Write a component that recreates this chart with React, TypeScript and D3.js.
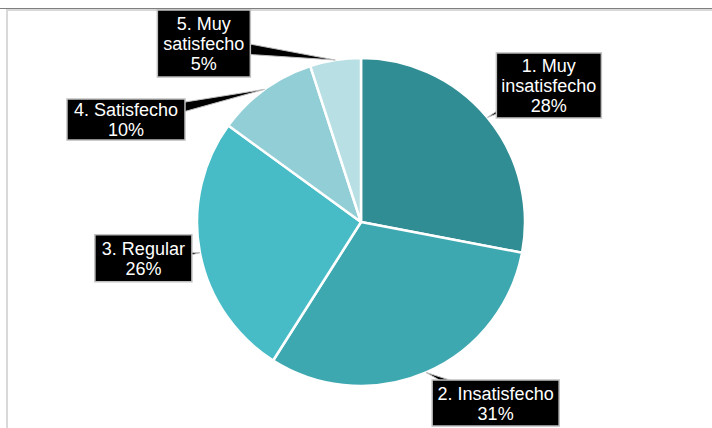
import { useEffect, useRef } from "react";
import * as d3 from "d3";

// category labels, already split the way the boxes wrap them
const CATEGORIES = [
  ["1. Muy", "insatisfecho"],
  ["2. Insatisfecho"],
  ["3. Regular"],
  ["4. Satisfecho"],
  ["5. Muy", "satisfecho"],
];
const VALUES = [28, 31, 26, 10, 5];
const COLORS = ["#318d94", "#3ea8b1", "#47bcc6", "#92ced6", "#b8dfe3"];

// label box placement relative to the slice's outer mid point
const LABEL_LAYOUT = [
  { dx: 61.5, dy: -32, w: 105, h: 65 },
  { dx: 69.5, dy: 30.5, w: 127, h: 46 },
  { dx: -56.5, dy: 5.5, w: 97, h: 47 },
  { dx: -138.6, dy: 30.2, w: 118, h: 41 },
  { dx: -131.5, dy: -16.5, w: 93, h: 67 },
];

export default function App() {
  const svgRef = useRef<SVGSVGElement | null>(null);

  useEffect(() => {
    if (!svgRef.current) return;
    const W = 712, H = 428;
    const cx = 361, cy = 222, R = 164;

    const svg = d3.select(svgRef.current);
    svg.selectAll("*").remove();
    svg.attr("width", W).attr("height", H).attr("viewBox", `0 0 ${W} ${H}`);

    svg.append("rect").attr("width", W).attr("height", H).attr("fill", "#fff");

    // frame lines of the sheet/chart area
    svg.append("line").attr("x1", 0).attr("x2", W).attr("y1", 8.5).attr("y2", 8.5)
      .attr("stroke", "#7f7f7f").attr("stroke-width", 1);
    svg.append("line").attr("x1", 6).attr("x2", W).attr("y1", 10).attr("y2", 10)
      .attr("stroke", "#d9d9d9").attr("stroke-width", 2);
    svg.append("line").attr("x1", 7).attr("x2", 7).attr("y1", 9).attr("y2", H)
      .attr("stroke", "#d9d9d9").attr("stroke-width", 2);

    const pie = d3.pie<number>().value((d) => d).sort(null);
    const arcs = pie(VALUES);
    const arc = d3.arc<d3.PieArcDatum<number>>().innerRadius(0).outerRadius(R);

    const g = svg.append("g").attr("transform", `translate(${cx},${cy})`);
    g.selectAll("path.slice")
      .data(arcs)
      .join("path")
      .attr("class", "slice")
      .attr("d", arc)
      .attr("fill", (_, i) => COLORS[i])
      .attr("stroke", "#fff")
      .attr("stroke-width", 2.5)
      .attr("stroke-linejoin", "round");

    const fmt = (v: number) => `${Math.round((v / d3.sum(VALUES)) * 100)}%`;

    arcs.forEach((a, i) => {
      const mid = (a.startAngle + a.endAngle) / 2;
      const tx = cx + R * Math.sin(mid);
      const ty = cy - R * Math.cos(mid);
      const lay = LABEL_LAYOUT[i];
      const bx = tx + lay.dx, by = ty + lay.dy;

      // callout wedge from the box centre to the slice
      const ddx = tx - bx, ddy = ty - by;
      const len = Math.hypot(ddx, ddy);
      const px = -ddy / len, py = ddx / len;
      const hw = 8;
      svg.append("path")
        .attr("d", `M${bx + px * hw},${by + py * hw}L${tx},${ty}L${bx - px * hw},${by - py * hw}Z`)
        .attr("fill", "#000")
        .attr("stroke", "#bfbfbf")
        .attr("stroke-width", 1);

      svg.append("rect")
        .attr("x", bx - lay.w / 2).attr("y", by - lay.h / 2)
        .attr("width", lay.w).attr("height", lay.h)
        .attr("fill", "#000")
        .attr("stroke", "#bfbfbf")
        .attr("stroke-width", 1.5);

      const lines = [...CATEGORIES[i], fmt(a.data)];
      const lh = 20;
      const t = svg.append("text")
        .attr("text-anchor", "middle")
        .attr("font-family", "'Liberation Sans', Arial, sans-serif")
        .attr("font-size", 18)
        .attr("fill", "#fff");
      lines.forEach((ln, k) => {
        t.append("tspan")
          .attr("x", bx)
          .attr("y", by - (lines.length * lh) / 2 + 16.5 + k * lh)
          .text(ln);
      });
    });
  }, []);

  return (
    <svg
      ref={svgRef}
      style={{ position: "absolute", left: 0, top: 0, display: "block" }}
    />
  );
}
